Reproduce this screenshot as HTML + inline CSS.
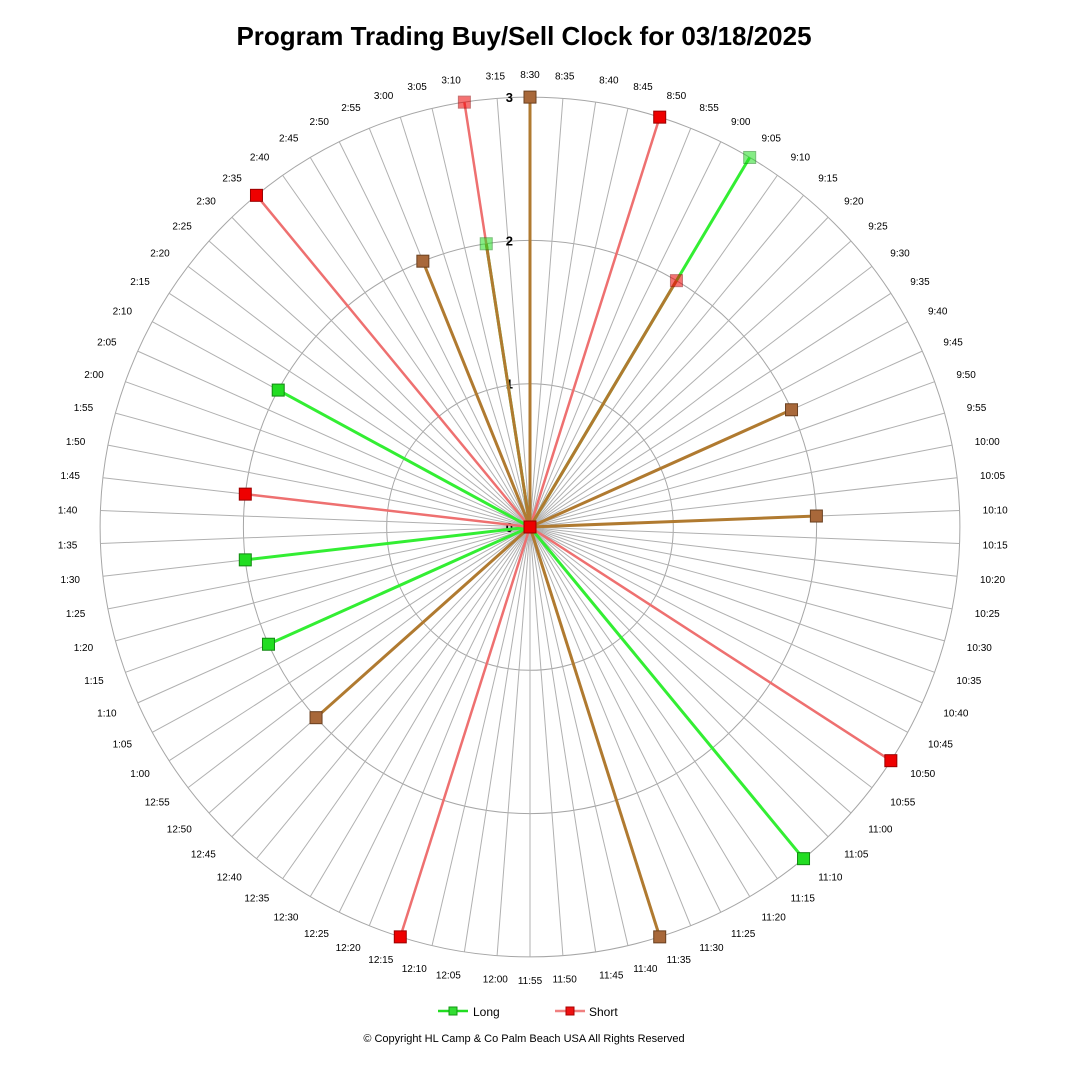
<!DOCTYPE html>
<html><head><meta charset="utf-8">
<style>
body{margin:0;background:#fff;}
svg text{font-family:"Liberation Sans",sans-serif;}
</style></head>
<body>
<svg id="chart" width="1080" height="1061" viewBox="0 0 1080 1061" xmlns="http://www.w3.org/2000/svg">
<rect width="1080" height="1061" fill="#fff"/>
<text x="524" y="45" text-anchor="middle" font-size="26" font-weight="bold" fill="#000">Program Trading Buy/Sell Clock  for  03/18/2025</text>
<g id="grid"></g>
<g id="series"></g>
<g id="legend">
  <g>
    <line x1="438" y1="1011" x2="468" y2="1011" stroke="#22dd22" stroke-width="2.5"/>
    <rect x="449" y="1007" width="8" height="8" fill="#33dd33" stroke="#119911"/>
    <text x="473" y="1016" font-size="12" fill="#000">Long</text>
  </g>
  <g>
    <line x1="555" y1="1011" x2="585" y2="1011" stroke="#f08080" stroke-width="2.5"/>
    <rect x="566" y="1007" width="8" height="8" fill="#ee1111" stroke="#aa0000"/>
    <text x="589" y="1016" font-size="12" fill="#000">Short</text>
  </g>
</g>
<text x="524" y="1042" text-anchor="middle" font-size="11" fill="#000">© Copyright  HL Camp &amp; Co  Palm Beach  USA  All Rights Reserved</text>
</svg>
<script>
const timeLabels=[];
for(let m=8*60+30;m<=15*60+15;m+=5){let h=Math.floor(m/60),mm=m%60;h=h>12?h-12:h;timeLabels.push(h+':'+String(mm).padStart(2,'0'));}
const radialTicks=[0,1,2,3];
const longIdx=[7,32,56,60,68,80];
const longVals=[3,3,2,2,2,2];
const shortIdx=[4,7,28,45,63,73,80];
const shortVals=[3,2,3,3,2,3,3];
const bothIdx=[0,15,20,37,52,77];
const bothVals=[3,2,2,3,2,2];
const fadedIdx=[7,80];

const NS='http://www.w3.org/2000/svg';
const cx=530,cy=527,unit=143.3,N=timeLabels.length;
function ang(i){return i*2*Math.PI/N;}
function px(i,v){return cx+Math.sin(ang(i))*v*unit;}
function py(i,v){return cy-Math.cos(ang(i))*v*unit;}
function mk(tag,attrs,parent){const e=document.createElementNS(NS,tag);for(const k in attrs)e.setAttribute(k,attrs[k]);parent.appendChild(e);return e;}
const grid=document.getElementById('grid'),ser=document.getElementById('series');
for(let t=1;t<radialTicks.length;t++){
  const c=mk('circle',{cx:cx,cy:cy,r:radialTicks[t]*unit,fill:'none',stroke:'#a6a6a6','stroke-width':1},grid);
  
  
}
for(let i=0;i<N;i++){
  const l=mk('line',{x1:cx,y1:cy,x2:px(i,3),y2:py(i,3),stroke:'#b0b0b0','stroke-width':1},grid);
  
  
  const tx=cx+Math.sin(ang(i))*453,ty=cy-Math.cos(ang(i))*453;
  const s=Math.sin(ang(i));
  const tt=mk('text',{x:tx,y:ty+4,'font-size':10,'text-anchor':Math.abs(s)<0.15?'middle':(s>0?'start':'end'),fill:'#000'},grid);
  tt.textContent=timeLabels[i];
  
  
}
radialTicks.forEach(v=>{
  const t=mk('text',{x:cx-17,y:cy-v*unit+5,'font-size':13,'font-weight':'bold','text-anchor':'end',fill:'#000'},grid);
  t.textContent=v;
  
  
});
function drawLine(i,v,col,w,name){
  const l=mk('line',{x1:cx,y1:cy,x2:px(i,v),y2:py(i,v),stroke:col,'stroke-width':w},ser);
  
  
}
function drawMarker(i,v,fill,stroke,name){
  const f=fadedIdx.includes(i);
  const r=mk('rect',{x:px(i,v)-6,y:py(i,v)-6,width:12,height:12,fill:fill,stroke:stroke,'stroke-width':1,opacity:f?0.55:1},ser);
  
  
}
longIdx.forEach((i,k)=>drawLine(i,longVals[k],'#33ee33',3,'long-line-'+timeLabels[i]));
shortIdx.forEach((i,k)=>drawLine(i,shortVals[k],'#ee7070',2.5,'short-line-'+timeLabels[i]));
bothIdx.forEach((i,k)=>drawLine(i,bothVals[k],'#b07a30',3,'both-line-'+timeLabels[i]));
longIdx.forEach((i,k)=>{const j=shortIdx.indexOf(i);if(j>=0)drawLine(i,Math.min(longVals[k],shortVals[j]),'#b07a30',3,'overlap-line-'+timeLabels[i]);});
longIdx.forEach((i,k)=>drawMarker(i,longVals[k],'#22dd22','#118811','long-marker-'+timeLabels[i]));
shortIdx.forEach((i,k)=>drawMarker(i,shortVals[k],'#ee0000','#990000','short-marker-'+timeLabels[i]));
bothIdx.forEach((i,k)=>drawMarker(i,bothVals[k],'#a8683a','#6a4020','both-marker-'+timeLabels[i]));
const c0=mk('rect',{x:cx-6,y:cy-6,width:12,height:12,fill:'#ee0000',stroke:'#990000'},ser);


</script>
</body></html>
